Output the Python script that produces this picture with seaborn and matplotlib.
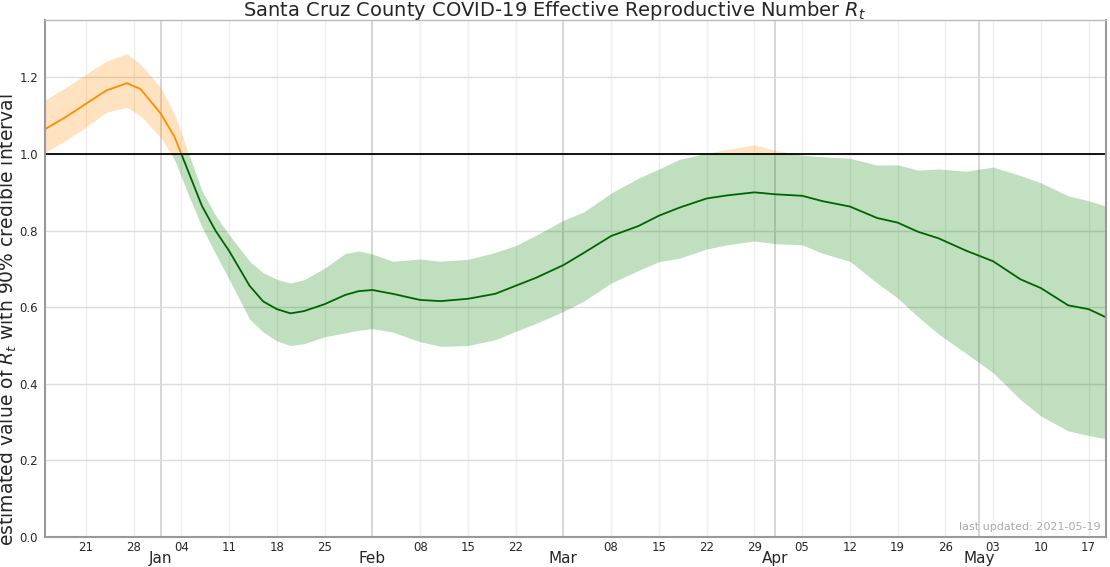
import pandas as pd
import seaborn as sns
import matplotlib.pyplot as plt
import matplotlib.dates as mdates
import matplotlib.transforms as mtransforms
from matplotlib.patches import Rectangle

# ==========================================
# Data
# ==========================================
dates = [
    "2020-12-15", "2020-12-18", "2020-12-21", "2020-12-24", "2020-12-27", "2020-12-29",
    "2021-01-01", "2021-01-03", "2021-01-05", "2021-01-07", "2021-01-09", "2021-01-11",
    "2021-01-14", "2021-01-16", "2021-01-18", "2021-01-20", "2021-01-22", "2021-01-25",
    "2021-01-28", "2021-01-30",
    "2021-02-01", "2021-02-04", "2021-02-08", "2021-02-11", "2021-02-15", "2021-02-19",
    "2021-02-22", "2021-02-25",
    "2021-03-01", "2021-03-04", "2021-03-08", "2021-03-12", "2021-03-15", "2021-03-18",
    "2021-03-22", "2021-03-25", "2021-03-29",
    "2021-04-01", "2021-04-05", "2021-04-08", "2021-04-12", "2021-04-16", "2021-04-19",
    "2021-04-22", "2021-04-25", "2021-04-29",
    "2021-05-03", "2021-05-07", "2021-05-10", "2021-05-14", "2021-05-17", "2021-05-20",
]

r_median = [
    1.065, 1.096, 1.131, 1.166, 1.185, 1.170,
    1.105, 1.045, 0.955, 0.865, 0.800, 0.747, 0.656, 0.615, 0.595, 0.584, 0.590, 0.608, 0.632, 0.642,
    0.645, 0.635, 0.619, 0.616, 0.622, 0.635, 0.656, 0.677,
    0.710, 0.742, 0.786, 0.812, 0.839, 0.860, 0.884, 0.892, 0.900,
    0.895, 0.891, 0.877, 0.863, 0.833, 0.821, 0.797, 0.780, 0.748,
    0.720, 0.673, 0.650, 0.605, 0.595, 0.570,
]

r_lower = [
    1.004, 1.035, 1.070, 1.109, 1.122, 1.100,
    1.043, 0.985, 0.895, 0.810, 0.740, 0.673, 0.569, 0.535, 0.512, 0.500, 0.505, 0.523, 0.533, 0.540,
    0.544, 0.535, 0.510, 0.498, 0.500, 0.515, 0.537, 0.558,
    0.589, 0.616, 0.663, 0.696, 0.719, 0.728, 0.752, 0.763, 0.773,
    0.766, 0.763, 0.741, 0.720, 0.663, 0.624, 0.575, 0.530, 0.480,
    0.429, 0.359, 0.316, 0.277, 0.265, 0.255,
]

r_upper = [
    1.141, 1.173, 1.208, 1.243, 1.262, 1.235,
    1.173, 1.105, 1.005, 0.905, 0.840, 0.789, 0.720, 0.690, 0.673, 0.663, 0.672, 0.702, 0.740, 0.747,
    0.739, 0.720, 0.726, 0.720, 0.725, 0.743, 0.761, 0.788,
    0.827, 0.849, 0.898, 0.937, 0.961, 0.986, 1.002, 1.012, 1.024,
    1.010, 0.997, 0.993, 0.989, 0.971, 0.972, 0.958, 0.961, 0.955,
    0.966, 0.944, 0.925, 0.891, 0.878, 0.862,
]

df = pd.DataFrame({
    "date": pd.to_datetime(dates),
    "median": r_median,
    "lower": r_lower,
    "upper": r_upper,
})

# ==========================================
# Figure
# ==========================================
sns.set_style("whitegrid")
plt.rcParams["font.family"] = ["DejaVu Sans"]

fig = plt.figure(figsize=(11.1, 5.67), dpi=100)
ax = fig.add_axes([0.0405, 0.0529, 0.9556, 0.9118])

# split everything at R_t = 1: orange above, green below
blend = mtransforms.blended_transform_factory(ax.transAxes, ax.transData)
regions = [
    (Rectangle((0, 1.0), 1, 5, transform=blend), "darkorange", "darkorange"),
    (Rectangle((0, -5.0), 1, 6, transform=blend), "green", "darkgreen"),
]
for clip, band_color, line_color in regions:
    band = ax.fill_between(df["date"], df["lower"], df["upper"],
                           color=band_color, alpha=0.25, lw=0)
    band.set_clip_path(clip)
    sns.lineplot(data=df, x="date", y="median", color=line_color, lw=1.3, ax=ax)
    ax.lines[-1].set_clip_path(clip)

ax.axhline(1.0, color="black", lw=1.3)

# axes limits
ax.set_xlim(df["date"].iloc[0], pd.Timestamp("2021-05-19 12:00"))
ax.set_ylim(0, 1.35)
ax.set_yticks([0.0, 0.2, 0.4, 0.6, 0.8, 1.0, 1.2])

# date ticks: months as major, Mondays as minor
ax.xaxis.set_major_locator(mdates.MonthLocator())
ax.xaxis.set_major_formatter(mdates.DateFormatter("%b"))
ax.xaxis.set_minor_locator(mdates.WeekdayLocator(byweekday=mdates.MO))
ax.xaxis.set_minor_formatter(mdates.DateFormatter("%d"))
ax.tick_params(axis="x", which="major", pad=7, labelsize=11, length=3, width=1, color="#555555")
ax.tick_params(axis="x", which="minor", pad=3, labelsize=8.5, length=0)
ax.tick_params(axis="y", labelsize=8.5, length=3.5, pad=1.5, color="#999999")

ax.grid(which="major", axis="x", color="#d0d0d0", lw=1.2)
ax.grid(which="minor", axis="x", color="#eeeeee", lw=1.0)
ax.grid(which="major", axis="y", color="#dddddd", lw=1.0)

for side in ["left", "bottom", "right", "top"]:
    ax.spines[side].set_color("#999999")
    ax.spines[side].set_linewidth(1.5)
ax.spines["top"].set_color("#bbbbbb")
ax.spines["top"].set_linewidth(1.0)

# title is centred on the figure, not on the axes
ax.set_title("Santa Cruz County COVID-19 Effective Reproductive Number $R_t$",
             fontsize=14, pad=3, x=0.4807)
ax.set_xlabel("")
ax.set_ylabel("estimated value of $R_t$ with 90% credible interval", fontsize=13.5)
ax.yaxis.set_label_coords(-0.024, 0.42)

ax.text(0.995, 0.01, "last updated: 2021-05-19", transform=ax.transAxes,
        ha="right", va="bottom", fontsize=8, color="#aaaaaa")

fig.savefig("out.png", dpi=100)
